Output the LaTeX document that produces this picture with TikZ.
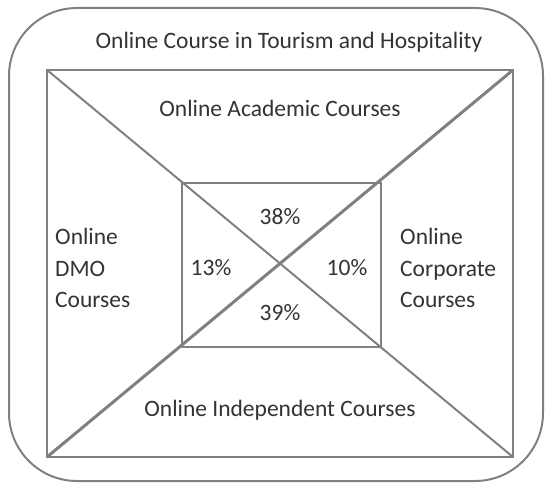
\documentclass[tikz,border=0pt]{standalone}
\usepackage{fontspec}
\setmainfont{Carlito}
\begin{document}
\begin{tikzpicture}[x=1pt,y=-1pt,
  ln/.style={draw=black!50,line width=2pt},
  thk/.style={draw=black!50,line width=3pt},
  lbl/.style={font=\fontsize{23.5}{31.5}\selectfont,text=black!80,inner sep=0pt},
  ml/.style={lbl,align=left}]
\useasboundingbox (0,0) rectangle (547,484);
\draw[ln,rounded corners=68pt] (9,8) rectangle (543,481);
\coordinate (A) at (47,70);
\coordinate (B) at (513,70);
\coordinate (C) at (513,457);
\coordinate (D) at (47,457);
\coordinate (a) at (182,183);
\coordinate (b) at (381,183);
\coordinate (c) at (381,347);
\coordinate (d) at (182,347);
\draw[ln] (A) rectangle (C);
\draw[ln] (a) rectangle (c);
\draw[ln] (A) -- (C);
\draw[thk] (D) -- (B);
\node[lbl] (t) at (289,42) {Online Course in Tourism and Hospitality};
\node[lbl] (ac) at (280,108) {Online Academic Courses};
\node[lbl] (ind) at (280,410) {Online Independent Courses};
\node[ml,anchor=west] (dmo) at (55,268) {Online\\DMO\\Courses};
\node[ml,anchor=west] (corp) at (400,268) {Online\\Corporate\\Courses};
\node[lbl] (p38) at (280,217) {38\%};
\node[lbl] (p13) at (211,268) {13\%};
\node[lbl] (p10) at (347,268) {10\%};
\node[lbl] (p39) at (280,313) {39\%};
\end{tikzpicture}
\end{document}
